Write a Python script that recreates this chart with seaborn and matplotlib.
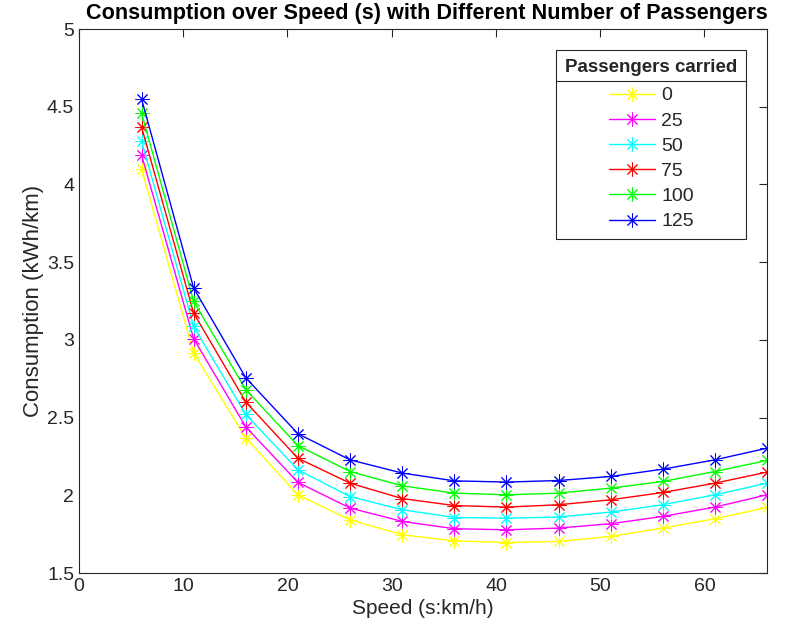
import matplotlib
matplotlib.use("Agg")
import matplotlib.pyplot as plt
import seaborn as sns
import pandas as pd
from matplotlib.lines import Line2D

speed = [6, 11, 16, 21, 26, 31, 36, 41, 46, 51, 56, 61, 66]
p0   = [4.10, 2.915, 2.37, 2.003, 1.842, 1.746, 1.707, 1.696, 1.703, 1.735, 1.789, 1.849, 1.922]
p25  = [4.19, 3.007, 2.44, 2.083, 1.918, 1.832, 1.785, 1.778, 1.789, 1.817, 1.864, 1.924, 2.003]
p50  = [4.28, 3.086, 2.52, 2.164, 1.992, 1.907, 1.857, 1.853, 1.860, 1.892, 1.939, 2.003, 2.078]
p75  = [4.37, 3.172, 2.60, 2.238, 2.078, 1.979, 1.934, 1.924, 1.939, 1.971, 2.018, 2.078, 2.149]
p100 = [4.46, 3.247, 2.68, 2.319, 2.153, 2.061, 2.014, 2.003, 2.014, 2.046, 2.089, 2.153, 2.224]
p125 = [4.55, 3.333, 2.756, 2.396, 2.228, 2.143, 2.093, 2.085, 2.095, 2.121, 2.168, 2.228, 2.303]
passengers = ["0", "25", "50", "75", "100", "125"]
series = [p0, p25, p50, p75, p100, p125]
colors = ["#ffff00", "#ff00ff", "#00ffff", "#ff0000", "#00ff00", "#0000ff"]

rows = []
for lab, vals in zip(passengers, series):
    for s, v in zip(speed, vals):
        rows.append({"Speed": s, "Consumption": v, "Passengers": lab})
df = pd.DataFrame(rows)

sns.set_style("white")
plt.rcParams["font.family"] = ["Liberation Sans", "DejaVu Sans"]

fig = plt.figure(figsize=(7.92, 6.39), dpi=100)
ax = fig.add_axes([79/792, 1-573/639, (767-79)/792, (573-29)/639])

for lab, col in zip(passengers, colors):
    sub = df[df["Passengers"] == lab]
    sns.lineplot(data=sub, x="Speed", y="Consumption", ax=ax, color=col,
                 marker=(8, 2, 0), markersize=10, markeredgewidth=0.7,
                 markeredgecolor=col, linewidth=1.0, label=lab)

gray = "#262626"
ax.set_xlim(0, 66)
ax.set_ylim(1.5, 5)
ax.set_xticks([0, 10, 20, 30, 40, 50, 60])
ax.set_yticks([1.5, 2, 2.5, 3, 3.5, 4, 4.5, 5])
ax.set_yticklabels(["1.5", "2", "2.5", "3", "3.5", "4", "4.5", "5"])
ax.tick_params(direction="in", length=6, width=0.8, colors=gray, labelsize=14,
               top=True, right=True, labelcolor=gray)
for sp in ax.spines.values():
    sp.set_color(gray)
    sp.set_linewidth(0.8)
ax.set_xlabel("Speed (s:km/h)", fontsize=15, color=gray, labelpad=3)
ax.set_ylabel("Consumption (kWh/km)", fontsize=16, color=gray, labelpad=2)
ax.set_title("Consumption over Speed (s) with Different Number of Passengers",
             fontsize=15.6, fontweight="bold", color="black", pad=7, x=0.505)

leg = ax.legend(title="Passengers carried", loc="upper right",
                bbox_to_anchor=((746-79)/688, 1-(50-29)/544), borderaxespad=0,
                fontsize=14, title_fontproperties={"weight": "bold", "size": 13.5},
                handlelength=2.4, handletextpad=0.3, labelspacing=0.39,
                fancybox=False, framealpha=1, edgecolor=gray, borderpad=0.45)
leg.get_frame().set_linewidth(0.8)
leg._legend_box.sep = 8

fig.canvas.draw()
lb = leg.get_window_extent()
tb = leg.get_title().get_window_extent()
hb = leg._legend_handle_box.get_window_extent()
inv = fig.transFigure.inverted()
ysep = (tb.y0 + hb.y1) / 2
(x0, y0) = inv.transform((lb.x0, ysep))
(x1, _) = inv.transform((lb.x1, ysep))
fig.add_artist(Line2D([x0, x1], [y0, y0], transform=fig.transFigure,
                      color=gray, linewidth=0.8))

fig.savefig("out.png", dpi=100)
